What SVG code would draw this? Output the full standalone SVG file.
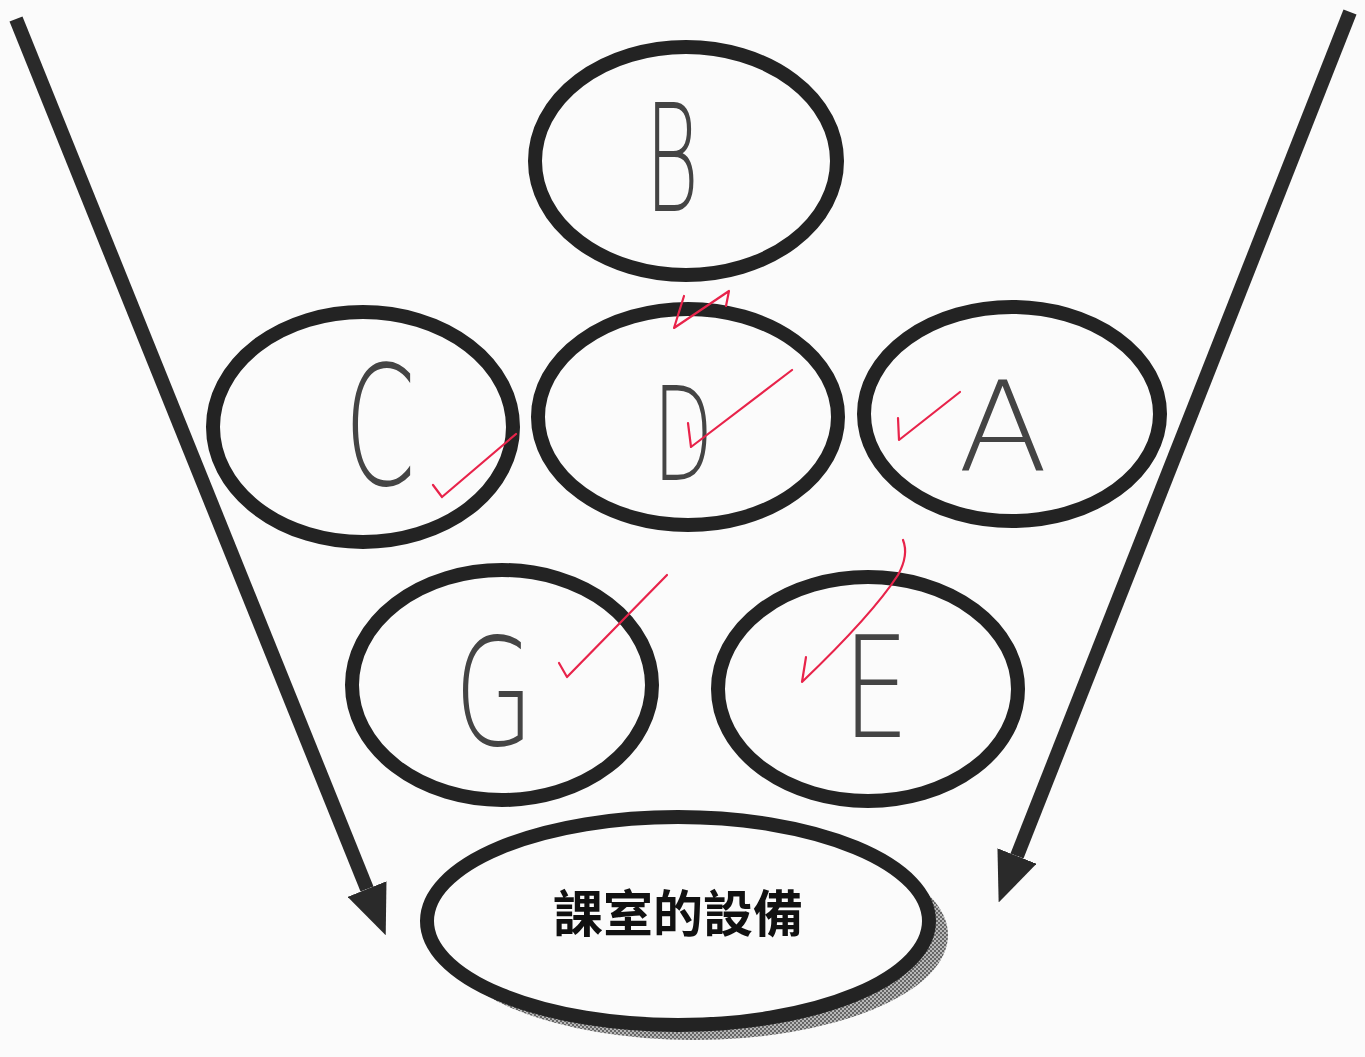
<svg xmlns="http://www.w3.org/2000/svg" width="1365" height="1057" viewBox="0 0 1365 1057">
<style>
.ring{fill:none;stroke:#232323;stroke-width:14}
.ring.solid{fill:#fbfbfb}
.letter{font-family:"DejaVu Sans","Liberation Sans",sans-serif;font-weight:200;fill:#444;text-anchor:middle;dominant-baseline:central}
.check{fill:none;stroke:#e8234a;stroke-width:2.2;stroke-linecap:round;stroke-linejoin:round}
.conn{stroke:#2a2a2a;stroke-width:14;fill:none}
.title{font-family:"Noto Sans CJK TC","Noto Sans CJK SC",serif;font-weight:700;font-size:50px;fill:#111;text-anchor:middle;dominant-baseline:central}
</style>
<defs>
<marker id="head" markerUnits="userSpaceOnUse" markerWidth="50" markerHeight="42" viewBox="0 0 50 42" refX="0" refY="21" orient="auto">
<path d="M0,0 L50,21 L0,42 z" fill="#2a2a2a"/>
</marker>
<pattern id="dots" width="4" height="4" patternUnits="userSpaceOnUse">
<rect width="4" height="4" fill="#b8b8b8"/>
<rect width="2" height="2" fill="#666"/>
<rect x="2" y="2" width="2" height="2" fill="#666"/>
</pattern>
</defs>
<rect width="1365" height="1057" fill="#fbfbfb"/>
<g id="connectors">
<line class="conn" x1="16" y1="19" x2="367" y2="889" marker-end="url(#head)"/>
<line class="conn" x1="1350" y1="12" x2="1017" y2="856" marker-end="url(#head)"/>
</g>
<g id="node-B">
<ellipse class="ring" cx="686" cy="161" rx="151" ry="114"/>
<text class="letter" x="672" y="160" font-size="150" transform="translate(672 160) scale(0.55 1) translate(-672 -160)">B</text>
</g>
<g id="node-C">
<ellipse class="ring" cx="363" cy="427" rx="150" ry="115"/>
<text class="letter" x="380" y="428" font-size="165" transform="translate(380 428) scale(0.62 1) translate(-380 -428)">C</text>
<path class="check" d="M433,485 L442,497 L516,434"/>
</g>
<g id="node-D">
<ellipse class="ring" cx="688" cy="417" rx="150" ry="108"/>
<text class="letter" x="683" y="435" font-size="130" transform="translate(683 435) scale(0.6 1) translate(-683 -435)">D</text>
<path class="check" d="M684,296 L674,328 L729,291 L726,306"/>
<path class="check" d="M688,423 L691,447 L792,370"/>
</g>
<g id="node-A">
<ellipse class="ring" cx="1012" cy="414" rx="148" ry="107"/>
<text class="letter" x="1003" y="428" font-size="125" transform="translate(1003 428) scale(1.05 1) translate(-1003 -428)">A</text>
<path class="check" d="M898,418 L899,440 L960,392"/>
</g>
<g id="node-G">
<ellipse class="ring" cx="502" cy="685" rx="150" ry="115"/>
<text class="letter" x="494" y="693" font-size="150" transform="translate(494 693) scale(0.68 1) translate(-494 -693)">G</text>
<path class="check" d="M559,663 L567,677 L667,575"/>
</g>
<g id="node-E">
<ellipse class="ring" cx="868" cy="689" rx="150" ry="112"/>
<text class="letter" x="876" y="688" font-size="140" transform="translate(876 688) scale(0.75 1) translate(-876 -688)">E</text>
<path class="check" d="M806,657 L802,682 Q872,615 898,575 Q909,555 903,540"/>
</g>
<g id="node-main">
<ellipse cx="694" cy="935" rx="254" ry="105" fill="url(#dots)"/>
<ellipse class="ring solid" cx="678" cy="921" rx="251" ry="104"/>
<text class="title" x="678" y="910">課室的設備</text>
</g>
</svg>
